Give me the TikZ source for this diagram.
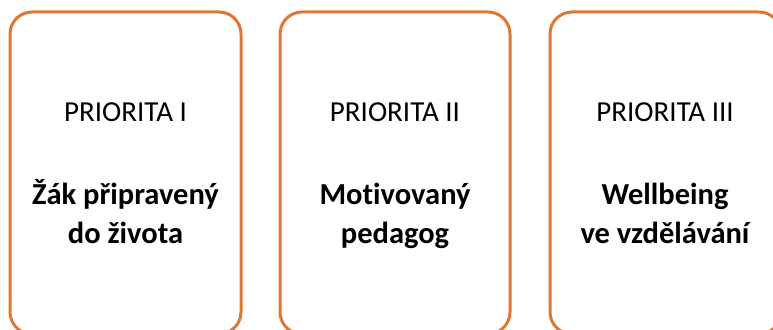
\documentclass[tikz,border=0pt]{standalone}
\usepackage{fontspec}
\setmainfont{Carlito}[Ligatures={NoCommon}]
\definecolor{boxorange}{HTML}{E07633}
\begin{document}
\begin{tikzpicture}[x=1pt,y=-1pt,
  prbox/.style={draw=boxorange,line width=3pt,rounded corners=22pt},
  prlabel/.style={anchor=base,inner sep=0pt,font=\fontsize{29}{35}\selectfont},
  prtitle/.style={anchor=base,inner sep=0pt,font=\fontsize{30.5}{37}\selectfont\bfseries}]
\useasboundingbox (0,0) rectangle (773,329);
\clip (0,0) rectangle (773,329);
\draw[prbox] (10,12) rectangle (241,334);
\draw[prbox] (280,12) rectangle (510,334);
\draw[prbox] (550,12) rectangle (781,334);
\node[prlabel] (p1) at (125.5,121) {PRIORITA I};
\node[prlabel] (p2) at (395,121) {PRIORITA II};
\node[prlabel] (p3) at (665,121) {PRIORITA III};
\node[prtitle] (t1a) at (125.5,204) {Žák připravený};
\node[prtitle] (t1b) at (125.5,243) {do života};
\node[prtitle] (t2a) at (395,204) {Motivovaný};
\node[prtitle] (t2b) at (395,243) {pedagog};
\node[prtitle] (t3a) at (665,204) {Wellbeing};
\node[prtitle] (t3b) at (665,243) {ve vzdělávání};
\end{tikzpicture}
\end{document}
